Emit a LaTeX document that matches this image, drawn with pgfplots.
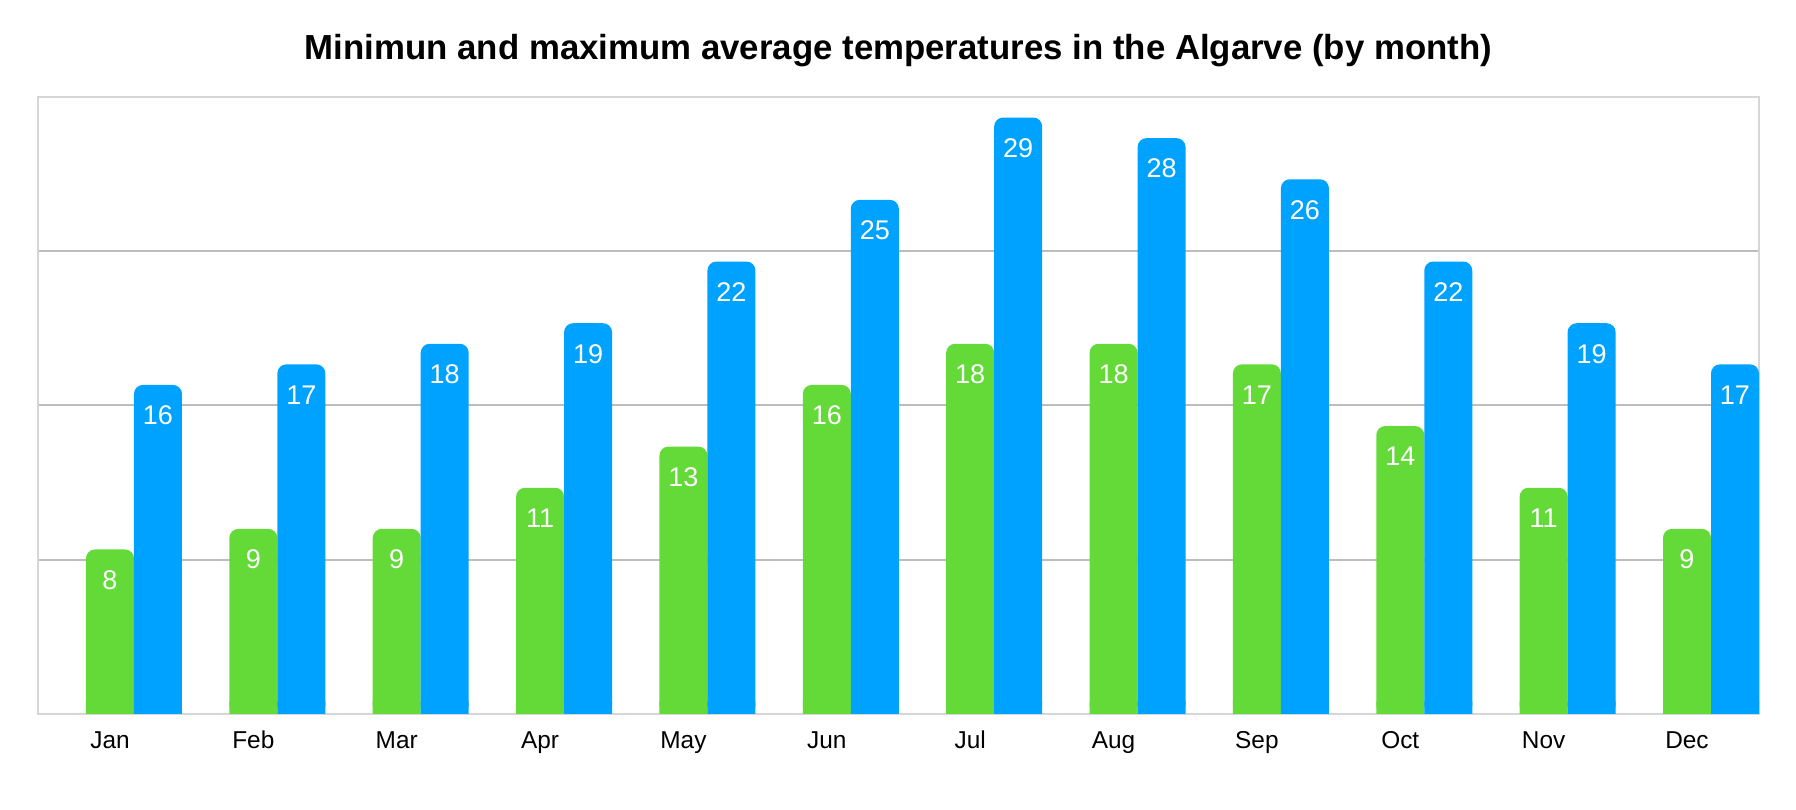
\documentclass[border=0pt]{standalone}
\usepackage{pgfplots}
\pgfplotsset{compat=1.18}
\usepackage{pgfplotstable}
\usepackage{fontspec}
\setmainfont{Liberation Sans}
\definecolor{mingreen}{RGB}{99,218,56}
\definecolor{maxblue}{RGB}{0,162,255}
\pgfplotstableread{
x min max
0 8 16
1 9 17
2 9 18
3 11 19
4 13 22
5 16 25
6 18 29
7 18 28
8 17 26
9 14 22
10 11 19
11 9 17
}\temps
\begin{document}
\begin{tikzpicture}
\begin{axis}[
  scale only axis, width=860.5pt, height=308.5pt,
  xmin=-0.6696, xmax=11.335, ymin=0, ymax=30,
  ybar, bar width=24pt,
  /pgf/number format/assume math mode=true,
  xtick={0,...,11},
  xticklabels={Jan,Feb,Mar,Apr,May,Jun,Jul,Aug,Sep,Oct,Nov,Dec},
  ytick={7.5,15,22.5}, yticklabel=\empty, ymajorgrids,
  major tick length=0pt,
  axis line style={draw=black!16, line width=1.3pt},
  major grid style={draw=black!26, line width=1pt},
  xticklabel style={font=\fontsize{12.2}{14}\selectfont, anchor=base, xshift=-12pt, yshift=-17.5pt},
  every node near coord/.append style={font=\fontsize{13.5}{15}\selectfont, text=white, anchor=center, yshift=-15.25pt},
]
\addplot[fill=mingreen, draw=none, rounded corners=4.5pt, bar shift=-12pt, nodes near coords] table[x=x, y=min] {\temps};
\addplot[fill=maxblue, draw=none, rounded corners=4.5pt, bar shift=12pt, nodes near coords] table[x=x, y=max] {\temps};
\addplot[fill=mingreen, draw=none, bar shift=-12pt, forget plot] table[x=x, y expr=0.6] {\temps};
\addplot[fill=maxblue, draw=none, bar shift=12pt, forget plot] table[x=x, y expr=0.6] {\temps};
\end{axis}
\node[anchor=base, font=\fontsize{17.4}{20}\selectfont\bfseries] at ([yshift=18.85pt]current axis.north) {Minimun and maximum average temperatures in the Algarve (by month)};
\path ([shift={(-19pt,-48pt)}]current axis.south west) rectangle ([shift={(18.5pt,48.5pt)}]current axis.north east);
\end{tikzpicture}
\end{document}
